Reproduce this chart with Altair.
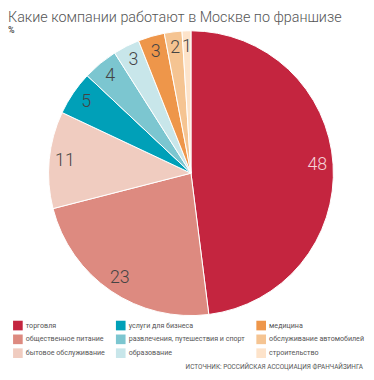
import altair as alt
import pandas as pd

categories = ["торговля", "общественное питание", "бытовое обслуживание",
              "услуги для бизнеса", "развлечения, путешествия и спорт", "образование",
              "медицина", "обслуживание автомобилей", "строительство"]
values = [48, 23, 11, 5, 4, 3, 3, 2, 1]
colors = ["#C4253F", "#DD8A80", "#F0CCC0", "#00A0B8", "#7CC6D0", "#C8E6EA",
          "#EE964A", "#F5C492", "#FDE3CA"]
title = "Какие компании работают в Москве по франшизе"
subtitle = "%"
source = "ИСТОЧНИК: РОССИЙСКАЯ АССОЦИАЦИЯ ФРАНЧАЙЗИНГА"

df = pd.DataFrame({"cat": categories, "value": values, "ord": list(range(len(values)))})

FONT = "Roboto"
CX, CY = 185, 144

base = alt.Chart(df).encode(
    theta=alt.Theta("value:Q", stack=True),
    order=alt.Order("ord:Q"),
)

arcs = base.mark_arc(outerRadius=144, stroke="white", strokeWidth=1).encode(
    x=alt.value(CX), y=alt.value(CY),
    color=alt.Color("cat:N", scale=alt.Scale(domain=categories, range=colors),
                    legend=alt.Legend(title=None, orient="none", legendX=5, legendY=293,
                                      columns=3, symbolType="square", symbolSize=95,
                                      symbolStrokeWidth=0, labelFont=FONT, labelFontSize=7.2,
                                      labelColor="#555", rowPadding=4, columnPadding=11,
                                      labelOffset=3, labelLimit=250)),
)

labels = base.mark_text(radius=128, font=FONT, fontSize=18, fontWeight=300).encode(
    x=alt.value(CX), y=alt.value(CY),
    text="value:Q",
    color=alt.condition(alt.datum.value > 40, alt.value("#F6D3D8"), alt.value("#444444")),
)

src = alt.Chart(pd.DataFrame({"t": [source]})).mark_text(
    align="right", baseline="middle", font=FONT, fontSize=6.5, color="#555"
).encode(x=alt.value(359), y=alt.value(340), text="t:N")

chart = alt.layer(arcs, labels, src).properties(
    width=362, height=343,
    autosize=alt.AutoSizeParams(type="none"),
    padding={"left": 0, "top": 21, "right": 0, "bottom": 0},
    title=alt.TitleParams(text=title, subtitle=subtitle, anchor="start", font=FONT,
                          fontSize=14.5, fontWeight=300, color="#555",
                          subtitleFont=FONT, subtitleFontSize=9, subtitleFontWeight="bold",
                          subtitleColor="#555", subtitlePadding=0, offset=-7),
).configure_view(stroke=None)

chart.save("out.html", embed_options={"renderer": "svg", "actions": False})
